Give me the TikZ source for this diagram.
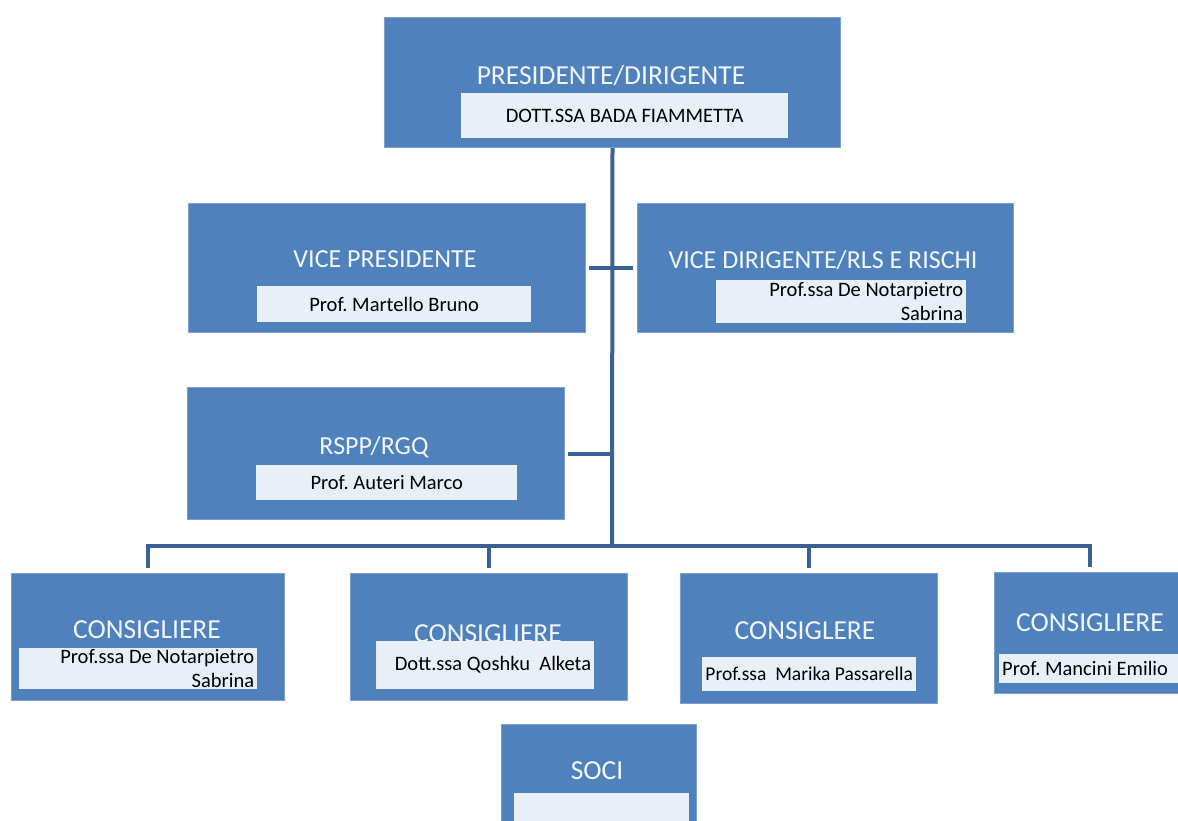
\documentclass[tikz,border=0pt]{standalone}
\usepackage{fontspec}
\setmainfont{Carlito}
\usepackage{tikz}
\definecolor{unitBlue}{HTML}{4F81BD}
\definecolor{linkBlue}{HTML}{3A6194}
\definecolor{cardFill}{HTML}{E9EFF7}
\definecolor{titleWhite}{HTML}{F2F6FB}
\colorlet{unitEdge}{unitBlue!75!white}
\frenchspacing

\begin{document}
\begin{tikzpicture}[
  x=1pt, y=-1pt,
  unit/.style={
    draw=unitEdge, line width=1pt, fill=unitBlue,
    anchor=north west, inner sep=0pt
  },
  title/.style={
    text=titleWhite, inner sep=0pt,
    font=\fontsize{26}{30}\selectfont
  },
  big title/.style={
    title, font=\fontsize{27.5}{32}\selectfont
  },
  card/.style={
    fill=cardFill, anchor=north west,
    inner xsep=3pt, inner ysep=0pt,
    text=black, font=\fontsize{20.5}{24}\selectfont
  },
  link/.style={
    draw=linkBlue, line width=4pt
  }
]
\path[use as bounding box, fill=white] (0,0) rectangle (1178,820);

% presidente
\node[unit, minimum width=456pt, minimum height=130pt] (pres) at (384,17) {};
\node[big title] (presTitle) at (611,76) {PRESIDENTE/DIRIGENTE};
\node[card, minimum width=327pt, minimum height=45pt] (presName) at (461,93) {DOTT.SSA BADA FIAMMETTA};

% vice
\node[unit, minimum width=397pt, minimum height=129pt] (vice) at (188,203) {};
\node[title] (viceTitle) at (385,259) {VICE PRESIDENTE};
\node[card, minimum width=274pt, minimum height=36pt] (viceName) at (257,286) {Prof. Martello Bruno};

\node[unit, minimum width=376pt, minimum height=129pt] (deputy) at (637,203) {};
\node[title] (deputyTitle) at (823,260) {VICE DIRIGENTE/RLS E RISCHI};
\node[card, text width=244pt, align=flush right, minimum height=43pt] (deputyName) at (716,280) {Prof.ssa De Notarpietro\\Sabrina};

% rspp
\node[unit, minimum width=377pt, minimum height=132pt] (rspp) at (187,387) {};
\node[title] (rsppTitle) at (374,447) {RSPP/RGQ};
\node[card, minimum width=261pt, minimum height=35pt] (rsppName) at (256,465) {Prof. Auteri Marco};

% consiglieri
\node[unit, minimum width=273pt, minimum height=127pt] (cons1) at (11,573) {};
\node[big title] (cons1Title) at (147,630) {CONSIGLIERE};
\node[card, text width=232pt, align=flush right, minimum height=41pt] (cons1Name) at (19,648) {Prof.ssa De Notarpietro\\Sabrina};

\node[unit, minimum width=277pt, minimum height=127pt] (cons2) at (350,573) {};
\node[big title] (cons2Title) at (488,634) {CONSIGLIERE};
\node[card, text width=212pt, align=flush right, minimum height=48pt] (cons2Name) at (376,641) {Dott.ssa Qoshku\ \ Alketa};

\node[unit, minimum width=257pt, minimum height=130pt] (cons3) at (680,573) {};
\node[big title] (cons3Title) at (805,631) {CONSIGLERE};
\node[card, minimum width=214pt, minimum height=34pt, font=\fontsize{19.5}{24}\selectfont] (cons3Name) at (702,657) {Prof.ssa\ \ Marika Passarella};

\node[unit, minimum width=191pt, minimum height=121pt] (cons4) at (994,572) {};
\node[big title] (cons4Title) at (1090,623) {CONSIGLIERE};
\node[card, text width=180pt, align=flush left, minimum height=29pt] (cons4Name) at (999,654) {Prof. Mancini Emilio};

% soci
\node[unit, minimum width=195pt, minimum height=106pt] (soci) at (501,724) {};
\node[big title] (sociTitle) at (597,771) {SOCI};
\node[card, minimum width=175pt, minimum height=40pt] (sociName) at (514,793) {};

% connectors
\coordinate (viceTick) at (589,268);
\coordinate (deputyTick) at (633,268);
\coordinate (rsppTick) at (568,454);
\coordinate (bus) at (612,546);

\draw[link] (pres.south) -- (bus);
\draw[link] (viceTick) -- (deputyTick);
\draw[link] (rsppTick) -- (rsppTick -| bus);
\draw[link] ([yshift=5pt]cons1.north) -- (cons1.north |- bus)
  -- (cons4.north |- bus) -- ([yshift=5pt]cons4.north);
\draw[link] ([yshift=5pt]cons2.north) -- (cons2.north |- bus);
\draw[link] ([yshift=5pt]cons3.north) -- (cons3.north |- bus);
\end{tikzpicture}
\end{document}
